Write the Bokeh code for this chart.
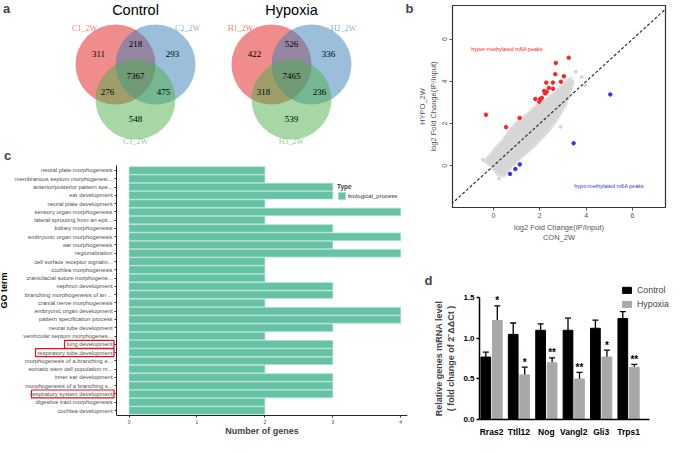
from bokeh.plotting import figure
from bokeh.layouts import row, column
from bokeh.models import (Range1d, FixedTicker, Label, BoxAnnotation, Legend, LegendItem,
                          Slope, Whisker, TeeHead, ColumnDataSource, NumeralTickFormatter)
from bokeh.core.properties import value
from bokeh.embed import file_html
from bokeh.resources import INLINE

# ---------------- data ----------------
# a: Venn diagrams (region order: 1 only, 1&2, 2 only, 1&2&3, 1&3, 2&3, 3 only)
venn_titles = ["Control", "Hypoxia"]
control_set_names = ["C1_2W", "C2_2W", "C3_2W"]
hypoxia_set_names = ["H1_2W", "H2_2W", "H3_2W"]
control_region_counts = [311, 218, 293, 7367, 276, 475, 548]
hypoxia_region_counts = [422, 526, 336, 7465, 318, 236, 539]

# b: log2 fold change scatter
hyper_x = [3.25, 2.69, 2.67, 3.04, 2.28, 2.57, 2.91, 2.39, 2.57, 2.19, 2.30, 2.23, 1.81, 2.09, 2.01, 1.98, -0.32, 1.13, 0.55]
hyper_y = [5.12, 4.87, 4.34, 4.24, 3.94, 3.94, 3.98, 3.69, 3.65, 3.54, 3.51, 3.43, 3.16, 3.22, 3.15, 3.04, 2.42, 2.27, 1.83]
hypo_x = [5.04, 3.46, 1.14, 0.95, 0.72]
hypo_y = [3.38, 1.07, 0.07, -0.15, -0.38]
cloud_x = [3.33, 2.79, 2.38, 1.83, 1.48, 1.14, 0.73, 0.39, 0.05, -0.30, -0.39,
           -0.09, 0.18, 0.46, 0.87, 1.35, 1.83, 2.38, 2.79, 3.13, 3.33, 3.47]
cloud_y = [4.20, 3.65, 3.26, 2.87, 2.47, 2.24, 1.76, 1.22, 0.82, 0.35, 0.20,
           -0.04, -0.43, -0.51, 0.04, 0.51, 0.98, 1.61, 2.24, 2.87, 3.49, 3.96]
grey_x = [3.81, 3.97, 3.55, -0.45, 0.25, 2.90]
grey_y = [4.20, 3.81, 4.45, 0.30, -0.60, 1.85]

# c: GO terms
go_terms = [
    "neural plate morphogenesis", "membranous septum morphogenesi...", "anterior/posterior pattern spe...",
    "ear development", "neural plate development", "sensory organ morphogenesis",
    "lateral sprouting from an epit...", "kidney morphogenesis", "embryonic organ morphogenesis",
    "ear morphogenesis", "regionalization", "cell surface receptor signalin...",
    "cochlea morphogenesis", "craniofacial suture morphogene...", "nephron development",
    "branching morphogenesis of an ...", "cranial nerve morphogenesis", "embryonic organ development",
    "pattern specification process", "neural tube development", "ventricular septum morphogenes...",
    "lung development", "respiratory tube development", "morphogenesis of a branching e...",
    "somatic stem cell population m...", "inner ear development", "morphogenesis of a branching s...",
    "respiratory system development", "digestive tract morphogenesis", "cochlea development"]
go_gene_counts = [2, 2, 3, 3, 2, 4, 2, 3, 4, 3, 4, 2, 2, 2, 3,
                  3, 2, 4, 4, 3, 2, 3, 3, 3, 2, 3, 3, 3, 2, 2]
highlighted_terms = ["lung development", "respiratory tube development", "respiratory system development"]

# d: qPCR
genes = ["Rras2", "Ttll12", "Nog", "Vangl2", "Gli3", "Trps1"]
control_mean = [0.77, 1.05, 1.10, 1.10, 1.125, 1.245]
control_sd = [0.06, 0.14, 0.08, 0.15, 0.10, 0.085]
hypoxia_mean = [1.22, 0.55, 0.70, 0.50, 0.77, 0.645]
hypoxia_sd = [0.18, 0.095, 0.06, 0.08, 0.085, 0.035]
significance = ["*", "*", "**", "**", "*", "**"]

SANS = value("Liberation Sans")
SERIF = value("Liberation Serif")

def letter(x, y, t, **kw):
    return Label(x=x, y=y, text=t, text_font="Liberation Sans", text_font_size="13px",
                 text_font_style="bold", text_align="center", text_baseline="middle", **kw)

# ---------------- a: Venn ----------------
pa = figure(width=414, height=146, x_range=Range1d(8, 422), y_range=Range1d(150, 4),
            output_backend="svg", toolbar_location=None, min_border=0, frame_align=False)
pa.axis.visible = False
pa.grid.visible = False
pa.outline_line_color = None
set_colors = ["#E41A1C", "#377EB8", "#4DAF4A"]
circle_dx = [-20, 20, 0]
circle_y = [68, 68, 103]
region_dx = [-37, 0, 37, 0, -28, 28, 0]
region_y = [57, 47, 57, 79, 95, 95, 122]
label_dx = [-51, 52, 0]
label_y = [32, 32, 145]
for cx, title, names, counts in [(143, venn_titles[0], control_set_names, control_region_counts),
                                 (299, venn_titles[1], hypoxia_set_names, hypoxia_region_counts)]:
    for k in range(3):
        pa.circle(x=[cx + circle_dx[k]], y=[circle_y[k]], radius=40,
                  fill_color=set_colors[k], fill_alpha=0.5, line_color=None)
    pa.text(x=[cx + d for d in region_dx], y=region_y, text=[str(c) for c in counts],
            text_font=SERIF, text_font_size="9px", text_align="center", text_baseline="middle",
            text_color="black")
    pa.text(x=[cx + d for d in label_dx], y=label_y, text=names, text_color=set_colors,
            text_alpha=0.65, text_font=SERIF, text_font_size="8px", text_align="center",
            text_baseline="middle")
    pa.text(x=[cx], y=[13], text=[title], text_font=SANS, text_font_size="14.5px",
            text_align="center", text_baseline="middle", text_color="black")
pa.add_layout(letter(14, 12, "a"))
pa.add_layout(letter(417, 12, "b"))

# ---------------- b: scatter ----------------
pb = figure(width=255, height=254, x_range=Range1d(-1.76, 7.42), y_range=Range1d(-1.97, 7.59),
            output_backend="svg", toolbar_location=None, frame_align=False,
            min_border_left=26, min_border_right=4, min_border_top=5, min_border_bottom=47)
pb.grid.visible = False
pb.outline_line_color = "#333333"
pb.outline_line_width = 1.2
pb.patch(cloud_x, cloud_y, fill_color="#D6D6D6", line_color="#DEDEDE", line_width=2)
pb.scatter(grey_x, grey_y, size=3, color="#D6D6D6")
pb.add_layout(Slope(gradient=1, y_intercept=0, line_color="#333333", line_dash="3 2", line_width=1.2))
pb.scatter(hyper_x, hyper_y, size=3.5, color="#FF2020")
pb.scatter(hypo_x, hypo_y, size=3.5, color="#3030FF")
pb.add_layout(Label(x=-0.95, y=5.52, text="hyper-methylated m6A peaks", text_color="#FF2020",
                    text_font="Liberation Sans", text_font_size="5.5px", text_baseline="middle"))
pb.add_layout(Label(x=3.49, y=-0.93, text="hypo-methylated m6A peaks", text_color="#3030FF",
                    text_font="Liberation Sans", text_font_size="5.5px", text_baseline="middle"))
for ax in (pb.xaxis[0], pb.yaxis[0]):
    ax.ticker = FixedTicker(ticks=[0, 2, 4, 6])
    ax.axis_line_color = None
    ax.major_tick_out = 3
    ax.major_tick_in = 0
    ax.major_tick_line_color = "#555555"
    ax.minor_tick_line_color = None
    ax.major_label_text_font = "Liberation Sans"
    ax.major_label_text_font_size = "7px"
    ax.major_label_text_color = "#555555"
    ax.major_label_standoff = 2
    ax.axis_label_text_font = "Liberation Sans"
    ax.axis_label_text_font_size = "7.5px"
    ax.axis_label_text_font_style = "normal"
    ax.axis_label_text_color = "#555555"
    ax.axis_label_standoff = 2
pb.yaxis.major_label_orientation = "vertical"
pb.xaxis.axis_label = "log2 Fold Change(IP/Input)\nCON_2W"
pb.yaxis.axis_label = "HYPO_2W\nlog2 Fold Change(IP/Input)"

# ---------------- c: GO bar chart ----------------
n = len(go_terms)
ypos = list(range(n, 0, -1))
C_AXIS_PX, C_W, C_RIGHT, C_H, C_BOTTOM, C_TOPPAD = 116, 414, 7, 291, 22, 19
c_pxu = (C_W - C_RIGHT - C_AXIS_PX) / (4.1 + 0.185)
c_left = -0.185 - C_AXIS_PX / c_pxu
c_ypx = (C_H - C_BOTTOM - C_TOPPAD) / (n + 0.2)
c_top = n + 0.6 + C_TOPPAD / c_ypx
c_bottom = 0.4 - C_BOTTOM / c_ypx
pc = figure(width=C_W, height=C_H, x_range=Range1d(c_left, 4.1), y_range=Range1d(c_bottom, c_top),
            output_backend="svg", toolbar_location=None, frame_align=False,
            min_border_left=0, min_border_right=C_RIGHT, min_border_top=0, min_border_bottom=0)
pc.grid.visible = False
pc.outline_line_color = None
bars = pc.hbar(y=ypos, right=go_gene_counts, left=0, height=0.9, fill_color="#66C2A5",
               line_color="#A9DCCA", line_width=0.7)
pc.yaxis.fixed_location = -0.185
pc.xaxis.fixed_location = 0.4
pc.yaxis.bounds = (0.4, n + 0.6)
pc.xaxis.bounds = (-0.185, 4.1)
pc.yaxis.ticker = FixedTicker(ticks=ypos)
pc.yaxis.major_label_overrides = {p: t for p, t in zip(ypos, go_terms)}
pc.xaxis.ticker = FixedTicker(ticks=[0, 1, 2, 3, 4])
for ax in (pc.xaxis[0], pc.yaxis[0]):
    ax.axis_line_color = "#222222"
    ax.axis_line_width = 1
    ax.major_tick_out = 2
    ax.major_tick_in = 0
    ax.major_tick_line_color = "#333333"
    ax.minor_tick_line_color = None
    ax.major_label_text_font = "Liberation Sans"
    ax.major_label_text_color = "#4D4D4D"
    ax.major_label_standoff = 2
    ax.axis_label_text_font = "Liberation Sans"
    ax.axis_label_text_font_style = "bold"
    ax.axis_label_text_color = "black"
    ax.axis_label_standoff = 3
pc.yaxis.major_label_text_font_size = "5.8px"
pc.xaxis.major_label_text_font_size = "5px"
pc.yaxis.axis_label = "GO term"
pc.yaxis.axis_label_text_font_size = "9px"
pc.add_layout(Label(x=(-0.185 + 4.1) / 2, y=6.5, y_units="screen", text="Number of genes",
                    text_font="Liberation Sans", text_font_size="9px", text_font_style="bold",
                    text_align="center", text_baseline="middle"))
box_left = {"lung development": 64, "respiratory tube development": 35,
            "respiratory system development": 31}
for term in highlighted_terms:
    yv = ypos[go_terms.index(term)]
    pc.add_layout(BoxAnnotation(left=box_left[term], right=113.5, left_units="screen",
                                right_units="screen", bottom=yv - 0.48, top=yv + 0.48,
                                fill_alpha=0, fill_color=None, line_color="#E8101A",
                                line_width=1.2, line_alpha=1))
leg_c = Legend(items=[LegendItem(label="biological_process", renderers=[bars])],
               title="Type", location=(337, 237), padding=0, margin=0, spacing=0,
               glyph_width=9, glyph_height=9, label_height=9, label_standoff=2,
               title_standoff=1, background_fill_alpha=0, border_line_alpha=0,
               label_text_font="Liberation Sans", label_text_font_size="6px",
               label_text_color="#333333", title_text_font="Liberation Sans",
               title_text_font_size="6.5px", title_text_font_style="bold")
pc.add_layout(leg_c)
pc.add_layout(letter(7, C_H - 9, "c", x_units="screen", y_units="screen"))

# ---------------- d: qPCR bars ----------------
gx = list(range(len(genes)))
ctrl_x = [g - 0.21 for g in gx]
hyp_x = [g + 0.21 for g in gx]
D_W, D_H, D_AXIS_PX, D_BOTTOM, D_TOP = 255, 183, 65, 18, 14
d_pxu = 27.4
d_left = -0.44 - D_AXIS_PX / d_pxu
d_ypx = 81.1
pdd = figure(width=D_W, height=D_H, x_range=Range1d(d_left, d_left + D_W / d_pxu),
             y_range=Range1d(-D_BOTTOM / d_ypx, (D_H - D_BOTTOM - D_TOP) / d_ypx),
             output_backend="svg", toolbar_location=None, frame_align=False,
             min_border_left=0, min_border_right=0, min_border_top=D_TOP, min_border_bottom=0)
pdd.grid.visible = False
pdd.outline_line_color = None
rc = pdd.vbar(x=ctrl_x, top=control_mean, width=0.355, fill_color="black", line_color="black")
rh = pdd.vbar(x=hyp_x, top=hypoxia_mean, width=0.355, fill_color="#A8A8A8", line_color="#A8A8A8")
err_src = ColumnDataSource(dict(
    base=ctrl_x + hyp_x,
    lower=control_mean + hypoxia_mean,
    upper=[m + s for m, s in zip(control_mean, control_sd)] + [m + s for m, s in zip(hypoxia_mean, hypoxia_sd)]))
pdd.add_layout(Whisker(base="base", lower="lower", upper="upper", source=err_src, dimension="height",
                       line_color="black", line_width=1.3, lower_head=None,
                       upper_head=TeeHead(size=6, line_color="black", line_width=1.3)))
pdd.text(x=hyp_x, y=[m + s for m, s in zip(hypoxia_mean, hypoxia_sd)], text=significance,
         text_font=SANS, text_font_size="10px", text_font_style="bold", text_align="center",
         text_baseline="alphabetic", y_offset=-5, text_color="#000000")
pdd.yaxis.fixed_location = -0.44
pdd.xaxis.fixed_location = 0
pdd.xaxis.ticker = FixedTicker(ticks=gx)
pdd.xaxis.major_label_overrides = {g: name for g, name in zip(gx, genes)}
pdd.xaxis.bounds = (-0.44, 5.77)
pdd.yaxis.ticker = FixedTicker(ticks=[0, 0.5, 1.0, 1.5])
pdd.yaxis.formatter = NumeralTickFormatter(format="0.0")
pdd.yaxis.bounds = (0, 1.5)
for ax in (pdd.xaxis[0], pdd.yaxis[0]):
    ax.axis_line_color = "black"
    ax.axis_line_width = 1.5
    ax.minor_tick_line_color = None
    ax.major_label_text_font = "Liberation Sans"
    ax.major_label_text_font_style = "bold"
    ax.major_label_text_color = "black"
    ax.major_label_standoff = 2
pdd.xaxis.major_tick_line_color = None
pdd.xaxis.major_label_standoff = 1
pdd.xaxis.major_label_text_font_size = "8.5px"
pdd.yaxis.major_label_text_font_size = "8px"
pdd.yaxis.major_tick_out = 3
pdd.yaxis.major_tick_in = 0
pdd.yaxis.major_tick_line_width = 1.5
pdd.yaxis.axis_label = "Relative genes mRNA level\n( fold change of 2\u207b\u0394\u0394Ct )"
pdd.yaxis.axis_label_text_font = "Liberation Sans"
pdd.yaxis.axis_label_text_font_style = "bold"
pdd.yaxis.axis_label_text_font_size = "9px"
pdd.yaxis.axis_label_standoff = 4
leg_d = Legend(items=[LegendItem(label="Control", renderers=[rc]),
                      LegendItem(label="Hypoxia", renderers=[rh])],
               location=(207, 127), padding=0, margin=0, spacing=2,
               glyph_width=11, glyph_height=8, label_height=12, label_standoff=5,
               background_fill_alpha=0, border_line_alpha=0,
               label_text_font="Liberation Sans", label_text_font_size="8.8px")
pdd.add_layout(leg_d)
pdd.add_layout(letter(14, 157, "d", x_units="screen", y_units="screen"))

layout = row(column(pa, pc), column(pb, pdd))
open("out.html", "w").write(file_html(layout, INLINE))
